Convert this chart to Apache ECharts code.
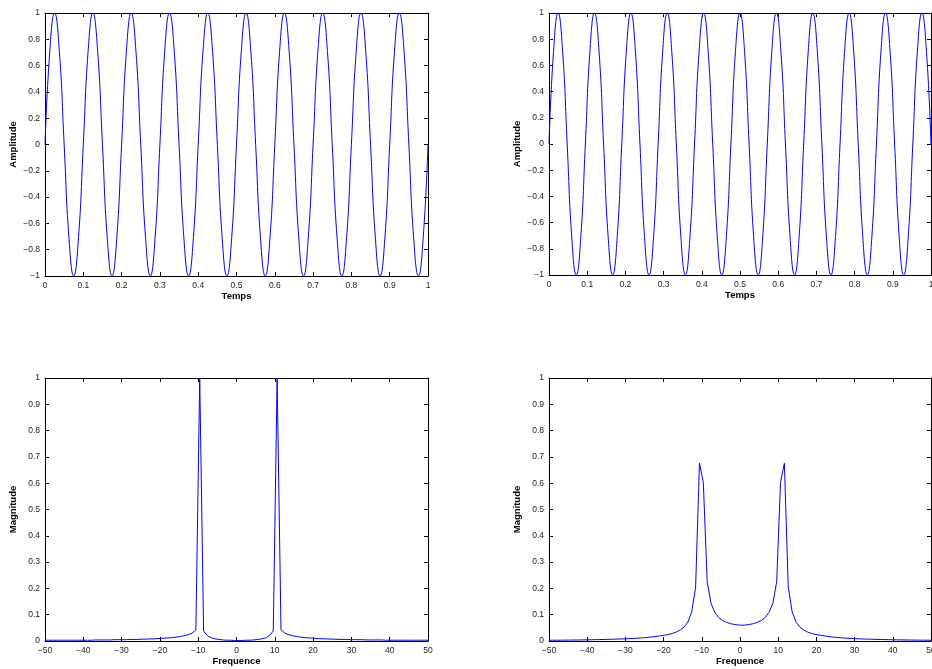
<!DOCTYPE html>
<html>
<head>
<meta charset="utf-8">
<script src="https://cdn.jsdelivr.net/npm/echarts@6/dist/echarts.min.js"></script>
<style>
html,body{margin:0;padding:0;background:#fff;}
#chart{width:932px;height:669px;}
</style>
</head>
<body>
<div id="chart"></div>
<script>
// ---- Data ----
// Top-left: signal sampled every 1/8 period (10 cycles in 1 s)
const timeA = [
0,0.0125,0.025,0.0375,0.05,0.0625,0.075,0.0875,
0.1,0.1125,0.125,0.1375,0.15,0.1625,0.175,0.1875,
0.2,0.2125,0.225,0.2375,0.25,0.2625,0.275,0.2875,
0.3,0.3125,0.325,0.3375,0.35,0.3625,0.375,0.3875,
0.4,0.4125,0.425,0.4375,0.45,0.4625,0.475,0.4875,
0.5,0.5125,0.525,0.5375,0.55,0.5625,0.575,0.5875,
0.6,0.6125,0.625,0.6375,0.65,0.6625,0.675,0.6875,
0.7,0.7125,0.725,0.7375,0.75,0.7625,0.775,0.7875,
0.8,0.8125,0.825,0.8375,0.85,0.8625,0.875,0.8875,
0.9,0.9125,0.925,0.9375,0.95,0.9625,0.975,0.9875,
1];
const ampA = [
0,0.707,1,0.707,0,-0.707,-1,-0.707,
0,0.707,1,0.707,0,-0.707,-1,-0.707,
0,0.707,1,0.707,0,-0.707,-1,-0.707,
0,0.707,1,0.707,0,-0.707,-1,-0.707,
0,0.707,1,0.707,0,-0.707,-1,-0.707,
0,0.707,1,0.707,0,-0.707,-1,-0.707,
0,0.707,1,0.707,0,-0.707,-1,-0.707,
0,0.707,1,0.707,0,-0.707,-1,-0.707,
0,0.707,1,0.707,0,-0.707,-1,-0.707,
0,0.707,1,0.707,0,-0.707,-1,-0.707,
0];
// Top-right: signal sampled every 1/8 period (10.5 cycles in 1 s)
const timeB = [
0,0.0119,0.0238,0.0357,0.0476,0.0595,0.0714,0.0833,
0.0952,0.1071,0.1190,0.1310,0.1429,0.1548,0.1667,0.1786,
0.1905,0.2024,0.2143,0.2262,0.2381,0.2500,0.2619,0.2738,
0.2857,0.2976,0.3095,0.3214,0.3333,0.3452,0.3571,0.3690,
0.3810,0.3929,0.4048,0.4167,0.4286,0.4405,0.4524,0.4643,
0.4762,0.4881,0.5000,0.5119,0.5238,0.5357,0.5476,0.5595,
0.5714,0.5833,0.5952,0.6071,0.6190,0.6310,0.6429,0.6548,
0.6667,0.6786,0.6905,0.7024,0.7143,0.7262,0.7381,0.7500,
0.7619,0.7738,0.7857,0.7976,0.8095,0.8214,0.8333,0.8452,
0.8571,0.8690,0.8810,0.8929,0.9048,0.9167,0.9286,0.9405,
0.9524,0.9643,0.9762,0.9881,1.0000];
const ampB = [
0,0.707,1,0.707,0,-0.707,-1,-0.707,
0,0.707,1,0.707,0,-0.707,-1,-0.707,
0,0.707,1,0.707,0,-0.707,-1,-0.707,
0,0.707,1,0.707,0,-0.707,-1,-0.707,
0,0.707,1,0.707,0,-0.707,-1,-0.707,
0,0.707,1,0.707,0,-0.707,-1,-0.707,
0,0.707,1,0.707,0,-0.707,-1,-0.707,
0,0.707,1,0.707,0,-0.707,-1,-0.707,
0,0.707,1,0.707,0,-0.707,-1,-0.707,
0,0.707,1,0.707,0,-0.707,-1,-0.707,
0,0.707,1,0.707,0];
// Frequency grid for both spectra
const freq = [
-50.00,-48.99,-47.98,-46.97,-45.96,-44.95,-43.94,-42.93,-41.92,-40.91,
-39.90,-38.89,-37.88,-36.87,-35.86,-34.85,-33.84,-32.83,-31.82,-30.81,
-29.80,-28.79,-27.78,-26.77,-25.76,-24.75,-23.74,-22.73,-21.72,-20.71,
-19.70,-18.69,-17.68,-16.67,-15.66,-14.65,-13.64,-12.63,-11.62,-10.61,
-9.60,-8.59,-7.58,-6.57,-5.56,-4.55,-3.54,-2.53,-1.52,-0.51,
0.51,1.52,2.53,3.54,4.55,5.56,6.57,7.58,8.59,9.60,
10.61,11.62,12.63,13.64,14.65,15.66,16.67,17.68,18.69,19.70,
20.71,21.72,22.73,23.74,24.75,25.76,26.77,27.78,28.79,29.80,
30.81,31.82,32.83,33.84,34.85,35.86,36.87,37.88,38.89,39.90,
40.91,41.92,42.93,43.94,44.95,45.96,46.97,47.98,48.99,50.00];
// Bottom-left magnitude
const magA = [
0.003,0.003,0.003,0.003,0.003,0.003,0.003,0.003,0.003,0.003,
0.003,0.003,0.003,0.004,0.004,0.004,0.004,0.004,0.005,0.005,
0.005,0.005,0.006,0.006,0.006,0.007,0.007,0.008,0.008,0.009,
0.010,0.011,0.012,0.013,0.015,0.017,0.020,0.024,0.030,0.042,
1.0,0.038,0.020,0.012,0.008,0.006,0.004,0.003,0.003,0.002,
0.002,0.002,0.003,0.003,0.004,0.006,0.008,0.012,0.020,0.038,
1.0,0.042,0.030,0.024,0.020,0.017,0.015,0.013,0.012,0.011,
0.010,0.009,0.008,0.008,0.007,0.007,0.006,0.006,0.006,0.005,
0.005,0.005,0.005,0.004,0.004,0.004,0.004,0.004,0.003,0.003,
0.003,0.003,0.003,0.003,0.003,0.003,0.003,0.003,0.003,0.003];
// Bottom-right magnitude
const magB = [
0.0028,0.0029,0.003,0.0031,0.0033,0.0034,0.0036,0.0038,0.004,0.0043,
0.0045,0.0048,0.0051,0.0054,0.0057,0.0061,0.0065,0.0069,0.0074,0.0079,
0.0085,0.0092,0.010,0.0108,0.0118,0.013,0.0144,0.016,0.0179,0.0202,
0.0225,0.025,0.029,0.034,0.042,0.053,0.072,0.112,0.205,0.676,
0.603,0.225,0.143,0.108,0.089,0.078,0.071,0.066,0.063,0.061,
0.060,0.061,0.063,0.066,0.071,0.078,0.089,0.108,0.143,0.225,
0.603,0.676,0.205,0.112,0.072,0.053,0.042,0.034,0.029,0.025,
0.0225,0.0202,0.0179,0.016,0.0144,0.013,0.0118,0.0108,0.010,0.0092,
0.0085,0.0079,0.0074,0.0069,0.0065,0.0061,0.0057,0.0054,0.0051,0.0048,
0.0045,0.0043,0.004,0.0038,0.0036,0.0034,0.0033,0.0031,0.003,0.0029];

const xNames = ['Temps','Temps','Frequence','Frequence'];
const yNames = ['Amplitude','Amplitude','Magnitude','Magnitude'];

// ---- Chart ----
const FONT = 'Liberation Sans, Arial, Helvetica, sans-serif';
const fmt = v => String(Math.round(v * 1000) / 1000).replace('-', '\u2212');

const grids = [
  {left: 45, top: 13, width: 383, height: 263, outerBoundsMode: 'none', containLabel: false},
  {left: 549, top: 13, width: 382, height: 262, outerBoundsMode: 'none', containLabel: false},
  {left: 45, top: 378, width: 383, height: 263, outerBoundsMode: 'none', containLabel: false},
  {left: 549, top: 378, width: 382, height: 263, outerBoundsMode: 'none', containLabel: false}
];
const xRanges = [[0,1,0.1],[0,1,0.1],[-50,50,10],[-50,50,10]];
const yRanges = [[-1,1,0.2],[-1,1,0.2],[0,1,0.1],[0,1,0.1]];

const lineStyleAxis = {show: true, onZero: false, lineStyle: {color: '#000', width: 1}};
const tickStyle = {show: true, inside: true, length: 4, lineStyle: {color: '#000', width: 1}};
const labelStyle = {color: '#1a1a1a', fontSize: 8.5, fontFamily: FONT, formatter: fmt};
const nameStyle = {color: '#000', fontSize: 9.5, fontWeight: 'bold', fontFamily: FONT};

const xAxis = [], yAxis = [];
grids.forEach((g, i) => {
  const [x0, x1, xi] = xRanges[i];
  const [y0, y1, yi] = yRanges[i];
  xAxis.push({type: 'value', gridIndex: i, position: 'bottom', min: x0, max: x1, interval: xi,
    axisLine: lineStyleAxis, axisTick: tickStyle, splitLine: {show: false},
    axisLabel: Object.assign({margin: 5}, labelStyle),
    name: xNames[i], nameLocation: 'middle', nameGap: 15, nameTextStyle: nameStyle});
  xAxis.push({type: 'value', gridIndex: i, position: 'top', min: x0, max: x1, interval: xi,
    axisLine: lineStyleAxis, axisTick: tickStyle, splitLine: {show: false},
    axisLabel: {show: false}});
  yAxis.push({type: 'value', gridIndex: i, position: 'left', min: y0, max: y1, interval: yi,
    axisLine: lineStyleAxis, axisTick: tickStyle, splitLine: {show: false},
    axisLabel: Object.assign({margin: 5}, labelStyle),
    name: yNames[i], nameLocation: 'middle', nameGap: 27, nameTextStyle: nameStyle});
  yAxis.push({type: 'value', gridIndex: i, position: 'right', min: y0, max: y1, interval: yi,
    axisLine: lineStyleAxis, axisTick: tickStyle, splitLine: {show: false},
    axisLabel: {show: false}});
});

const pairs = (xs, ys) => xs.map((x, i) => [x, ys[i]]);
const mk = (idx, data, smooth) => ({
  type: 'line', xAxisIndex: idx * 2, yAxisIndex: idx * 2, data: data,
  showSymbol: false, smooth: smooth, clip: true,
  lineStyle: {color: '#0000ff', width: 1}, itemStyle: {color: '#0000ff'}
});

const chart = echarts.init(document.getElementById('chart'), null, {renderer: 'canvas'});
chart.setOption({
  animation: false,
  backgroundColor: '#fff',
  grid: grids,
  xAxis: xAxis,
  yAxis: yAxis,
  series: [
    mk(0, pairs(timeA, ampA), true),
    mk(1, pairs(timeB, ampB), true),
    mk(2, pairs(freq, magA), false),
    mk(3, pairs(freq, magB), false)
  ]
});
</script>
</body>
</html>
